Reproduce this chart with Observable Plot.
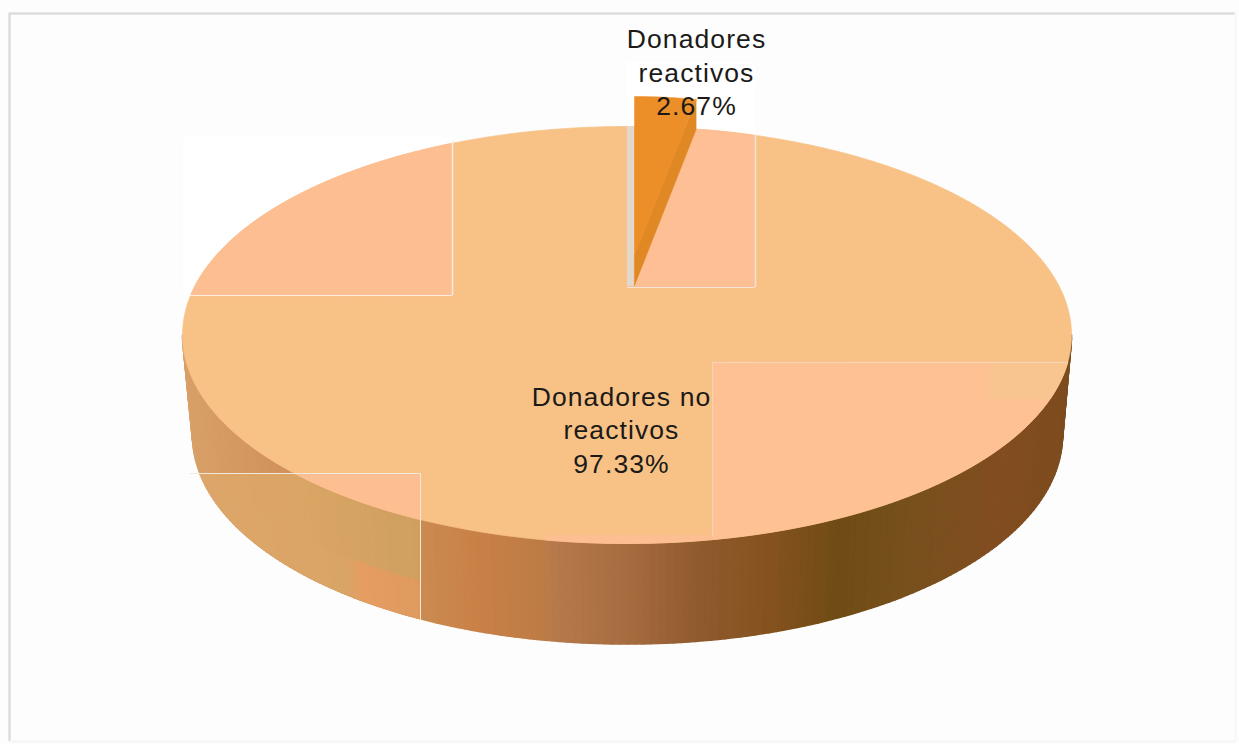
<!DOCTYPE html>
<html>
<head>
<meta charset="utf-8">
<script src="https://cdn.jsdelivr.net/npm/d3@7"></script>
<script src="https://cdn.jsdelivr.net/npm/@observablehq/plot@0.6"></script>
<style>
  html, body { margin: 0; padding: 0; background: #fdfdfd; }
</style>
</head>
<body>
<div id="chart"></div>
<script>
// Pie values
const sliceNames = ["Donadores\nreactivos", "Donadores no\nreactivos"];
const shares = [2.67, 97.33];

// Tilted disc: upper face, lower rim, and where the slices meet
const face = {cx: 626.5, cy: 334.5, rx: 444.5, ry: 208.5};
const base = {cx: 627, cy: 434.5, rx: 435, ry: 209};
const hub = {x: 630, y: 285};
const TAU = Math.PI * 2;
const rim = (e, t, k = 1) => ({x: e.cx + k * e.rx * Math.sin(t), y: e.cy - e.ry * Math.cos(t)});
const steps = (a, b, n) => d3.range(n + 1).map((i) => a + ((b - a) * i) / n);

// Sutherland-Hodgman clipping of a polygon to an axis-aligned box
function clipBox(points, [x1, y1, x2, y2]) {
  const edges = [
    [(p) => p.x >= x1, (a, b) => cut(a, b, "x", x1)],
    [(p) => p.x <= x2, (a, b) => cut(a, b, "x", x2)],
    [(p) => p.y >= y1, (a, b) => cut(a, b, "y", y1)],
    [(p) => p.y <= y2, (a, b) => cut(a, b, "y", y2)]
  ];
  function cut(a, b, k, v) {
    const f = (v - a[k]) / (b[k] - a[k]);
    return {x: a.x + f * (b.x - a.x), y: a.y + f * (b.y - a.y)};
  }
  let out = points;
  for (const [inside, hit] of edges) {
    const next = [];
    out.forEach((p, i) => {
      const q = out[(i + 1) % out.length];
      if (inside(p)) next.push(p);
      if (inside(p) !== inside(q)) next.push(hit(p, q));
    });
    out = next;
    if (!out.length) break;
  }
  return out;
}

// Every polygon is one z-group of a filled Plot.line
function polygons(list, strokeWidth = 0.7) {
  const rows = [];
  list.forEach((poly, id) => {
    if (poly.points.length > 2) poly.points.forEach((p) => rows.push({...p, id, fill: poly.fill}));
  });
  return Plot.line(rows, {x: "x", y: "y", z: "id", fill: "fill", stroke: "fill", strokeWidth, curve: "linear-closed"});
}

const theta = (shares[0] / 100) * TAU;
const fullFace = steps(0, TAU, 360).map((t) => rim(face, t));

// Rim shading, left to right
const rimShade = d3.scaleLinear()
  .domain([182, 300, 420, 470, 545, 546, 620, 700, 770, 840, 900, 1000, 1071])
  .range(["#d8a068", "#cf9058", "#cb8a50", "#c98147", "#bd7c45", "#b67a4c", "#a86d41", "#8f5a2d", "#85521f", "#6f4b15", "#76501c", "#824d20", "#7d4c1e"]);
const panelShade = d3.scaleLinear()
  .domain([190, 300, 420])
  .range(["#dda66a", "#daa565", "#cfa060"]);
const panelLower = d3.scaleLinear()
  .domain([190, 340, 355, 420])
  .range(["#dda66a", "#d9a565", "#e69d62", "#de9a5e"]);

// Rim quads, split in an upper and a lower band
const rimAngles = steps(TAU / 4, (3 * TAU) / 4, 180);
const rimQuads = d3.pairs(rimAngles).map(([a, b]) => {
  const t1 = rim(face, a), t2 = rim(face, b), b1 = rim(base, a), b2 = rim(base, b);
  return {mid: (t1.x + t2.x) / 2, points: [t1, t2, b2, b1]};
});
const mix = (p, q, f) => ({x: p.x + f * (q.x - p.x), y: p.y + f * (q.y - p.y)});
const rimPolys = rimQuads.map((q) => ({fill: rimShade(q.mid), points: q.points}));
const panelBox = [190, 473, 420, 660];
const rimPanel = rimQuads.flatMap((q) => {
  const [t1, t2, b2, b1] = q.points;
  const m1 = mix(t1, b1, 0.62), m2 = mix(t2, b2, 0.62);
  return [
    {fill: panelShade(q.mid), points: clipBox([t1, t2, m2, m1], panelBox)},
    {fill: panelLower(q.mid), points: clipBox([m1, m2, b2, b1], panelBox)}
  ];
});

// The larger slice runs from the end of the small one round to the top
const mainSlice = [hub, ...steps(theta, TAU, 360).map((t) => rim(face, t))];

// The small slice is pulled out of the disc, up and to the right
const lift = {x: 7.5, y: -30};
const drop = 30;
const foreshorten = 0.83;
const wedgeRim = steps(0, theta, 12).map((t) => {
  const p = rim(face, t, foreshorten);
  return {x: p.x + lift.x, y: p.y + lift.y};
});
const wedgeTip = {x: 634, y: 255};
const wedgeEnd = wedgeRim[wedgeRim.length - 1];
const wedgeTop = [wedgeTip, ...wedgeRim];
const wedgeSide = [wedgeTip, wedgeEnd, {x: wedgeEnd.x, y: wedgeEnd.y + drop}, {x: wedgeTip.x, y: wedgeTip.y + drop}];

// Lighter panels lying over the face
const peach = "#fdbf92";
const facePanels = [
  {fill: peach, points: clipBox(fullFace, [182, 126, 452, 295])},
  {fill: "#febf95", points: clipBox(fullFace, [627, 126, 755, 287])},
  {fill: "#fec193", points: clipBox(fullFace, [712, 362, 1071, 540])},
  {fill: "#f8c590", points: clipBox(fullFace, [990, 362, 1071, 398])},
  {fill: peach, points: clipBox(fullFace, [545, 535, 712, 546])},
  {fill: peach, points: clipBox(fullFace, [190, 473, 420, 520])}
];

const percent = d3.format(".2f");
const labels = sliceNames.map((name, i) => ({
  text: `${name}\n${percent(shares[i])}%`,
  x: [696, 621][i],
  y: [70.5, 428][i]
}));

const plot = Plot.plot({
  width: 1239,
  height: 744,
  margin: 0,
  x: {domain: [0, 1239], range: [0, 1239], axis: null},
  y: {domain: [0, 744], range: [0, 744], axis: null},
  color: {type: "identity"},
  style: {background: "#fdfdfd", letterSpacing: "1.1px", fontFamily: "'Liberation Sans', Arial, sans-serif"},
  marks: [
    // Outer frame
    Plot.ruleY([13], {x1: 9, x2: 1235, stroke: "#dcdcdc", strokeWidth: 2.5}),
    Plot.ruleX([9], {y1: 13, y2: 741, stroke: "#dcdcdc", strokeWidth: 2.5}),
    Plot.ruleX([1235], {y1: 13, y2: 741, stroke: "#f7f7f7", strokeWidth: 2}),
    Plot.ruleY([741], {x1: 9, x2: 1235, stroke: "#f6f6f6", strokeWidth: 2}),

    // White ground behind the small slice and its label
    Plot.rect([{x1: 627, x2: 755, y1: 62, y2: 140}], {x1: "x1", x2: "x2", y1: "y1", y2: "y2", fill: "#ffffff"}),
    Plot.rect([{x1: 183, x2: 452, y1: 137, y2: 295}], {x1: "x1", x2: "x2", y1: "y1", y2: "y2", fill: "#ffffff"}),

    // Disc
    polygons(rimPolys, 1.6),
    polygons(rimPanel, 1.2),
    polygons([{fill: "#f8c286", points: mainSlice}]),
    polygons(facePanels),

    // Hairlines along the panel edges
    Plot.ruleY([295], {x1: 190, x2: 452, stroke: "#fbeee0", strokeWidth: 1}),
    Plot.ruleX([452], {y1: 141, y2: 295, stroke: "#f3ece2", strokeWidth: 1.5}),
    Plot.ruleY([287], {x1: 627, x2: 755, stroke: "#f1e4d6", strokeWidth: 1}),
    Plot.ruleX([755], {y1: 135, y2: 287, stroke: "#efe4d6", strokeWidth: 1.5}),
    Plot.ruleY([362], {x1: 712, x2: 1068, stroke: "#f1d6b8", strokeWidth: 1}),
    Plot.ruleX([712], {y1: 362, y2: 536, stroke: "#f4d4b4", strokeWidth: 1}),
    Plot.ruleY([473], {x1: 190, x2: 420, stroke: "#f1e9db", strokeWidth: 1}),
    Plot.ruleX([420], {y1: 473, y2: 620, stroke: "#eee7da", strokeWidth: 1}),

    // Cut wall beside the pulled-out slice
    Plot.rect([{x1: 627, x2: 634, y1: 126, y2: 286}], {x1: "x1", x2: "x2", y1: "y1", y2: "y2", fill: "#e2d8cb"}),

    // Small slice
    polygons([
      {fill: "#df8824", points: wedgeSide},
      {fill: "#ec8f28", points: wedgeTop}
    ], 0.5),

    // Slice labels
    Plot.text(labels, {
      x: "x",
      y: "y",
      text: "text",
      fontSize: 26.5,
      lineHeight: 1.27,
      lineAnchor: "middle",
      textAnchor: "middle",
      fill: "#1b1a18"
    })
  ]
});
document.getElementById("chart").append(plot);
</script>
</body>
</html>
